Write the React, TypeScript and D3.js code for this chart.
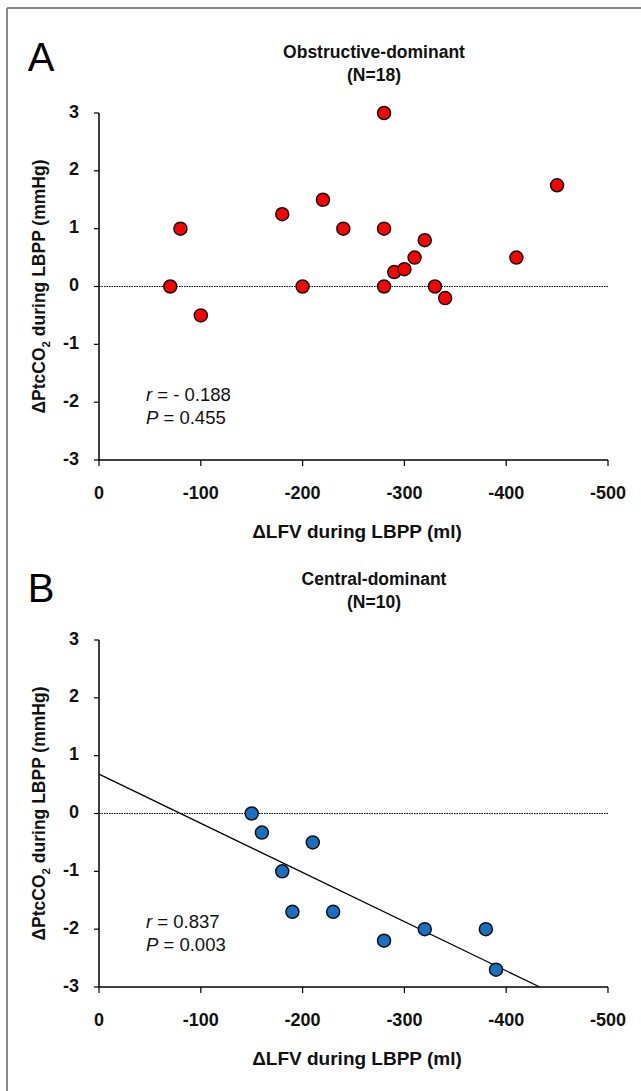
import React from "react";
import * as d3 from "d3";

// Panel A: obstructive-dominant
const obstructiveLFV = [-70, -80, -100, -180, -200, -220, -240, -280, -280, -280, -290, -300, -310, -320, -330, -340, -410, -450];
const obstructiveCO2 = [0, 1, -0.5, 1.25, 0, 1.5, 1, 3, 1, 0, 0.25, 0.3, 0.5, 0.8, 0, -0.2, 0.5, 1.75];

// Panel B: central-dominant
const centralLFV = [-150, -160, -180, -190, -210, -230, -280, -320, -380, -390];
const centralCO2 = [0, -0.33, -1, -1.7, -0.5, -1.7, -2.2, -2, -2, -2.7];
const centralFit = { intercept: 0.68, slope: 0.0085 };

const xTicks = [0, -100, -200, -300, -400, -500];
const yTicks = [3, 2, 1, 0, -1, -2, -3];

const FONT = "'Liberation Sans', Arial, sans-serif";

const x = d3.scaleLinear().domain([0, -500]).range([99, 608]);

type PanelProps = {
  top: number;
  letter: string;
  letterY: number;
  title: string;
  n: string;
  xs: number[];
  ys: number[];
  fill: string;
  r: string;
  p: string;
  fit?: { intercept: number; slope: number };
};

const Panel = ({ top, letter, letterY, title, n, xs, ys, fill, r, p, fit }: PanelProps) => {
  const y = d3.scaleLinear().domain([3, -3]).range([top + 113, top + 460]);
  const [x0, x1] = x.range();
  const yBottom = y(-3);

  let fitLine = null;
  if (fit) {
    // y = intercept + slope * lfv, stops at the x axis
    const xEnd = (-3 - fit.intercept) / fit.slope;
    const line = d3.line<[number, number]>().x((d) => x(d[0])).y((d) => y(d[1]));
    fitLine = (
      <path d={line([[0, fit.intercept], [xEnd, -3]]) || ""} stroke="#000" strokeWidth={1.3} fill="none" />
    );
  }

  return (
    <g fontFamily={FONT}>
      <text x={41} y={letterY} fontSize={40} textAnchor="middle" fill="#000">{letter}</text>
      <text x={374} y={top + 58} fontSize={17.5} fontWeight="bold" textAnchor="middle" fill="#111">{title}</text>
      <text x={374} y={top + 81} fontSize={17.5} fontWeight="bold" textAnchor="middle" fill="#111">{n}</text>

      {/* zero line */}
      <line x1={x0} x2={x1} y1={y(0)} y2={y(0)} stroke="#000" strokeWidth={1} strokeDasharray="1.5,1" />

      {/* axes */}
      <line x1={x0} x2={x0} y1={y(3)} y2={yBottom} stroke="#000" strokeWidth={1.5} />
      <line x1={x0} x2={x1} y1={yBottom} y2={yBottom} stroke="#000" strokeWidth={1.5} />
      {yTicks.map((t) => (
        <g key={"y" + t}>
          <line x1={x0 - 5} x2={x0} y1={y(t)} y2={y(t)} stroke="#000" strokeWidth={1.2} />
          <text x={x0 - 20} y={y(t) + 4.5} fontSize={18} fontWeight="bold" textAnchor="end" fill="#111">{t}</text>
        </g>
      ))}
      {xTicks.map((t) => (
        <g key={"x" + t}>
          <line x1={x(t)} x2={x(t)} y1={yBottom} y2={yBottom + 6} stroke="#000" strokeWidth={1.2} />
          <text x={x(t)} y={yBottom + 39} fontSize={18} fontWeight="bold" textAnchor="middle" fill="#111">{t}</text>
        </g>
      ))}

      <text
        transform={`translate(45,${y(0)}) rotate(-90)`}
        fontSize={17.5}
        fontWeight="bold"
        textAnchor="middle"
        fill="#111"
      >
        ΔPtcCO<tspan fontSize={11.5} dy={5}>2</tspan><tspan dy={-5}> during LBPP (mmHg)</tspan>
      </text>
      <text x={357} y={yBottom + 78} fontSize={19} fontWeight="bold" textAnchor="middle" fill="#111">
        ΔLFV during LBPP (ml)
      </text>

      {fitLine}

      {xs.map((v, i) => (
        <circle key={i} cx={x(v)} cy={y(ys[i])} r={6.5} fill={fill} stroke="#111" strokeWidth={1.5} />
      ))}

      <text x={146} y={y(-2) - 1} fontSize={18.5} fill="#111">
        <tspan fontStyle="italic">r</tspan> = {r}
      </text>
      <text x={146} y={y(-2) + 22} fontSize={18.5} fill="#111">
        <tspan fontStyle="italic">P</tspan> = {p}
      </text>
    </g>
  );
};

export default function App() {
  return (
    <svg
      width={641}
      height={1091}
      style={{ position: "absolute", left: 0, top: 0, background: "#fff" }}
    >
      <rect x={0} y={0} width={641} height={1091} fill="#fff" />
      <line x1={7} x2={641} y1={8} y2={8} stroke="#888" strokeWidth={2} />
      <line x1={7} x2={7} y1={8} y2={1091} stroke="#888" strokeWidth={2} />
      <Panel
        top={0}
        letter="A"
        letterY={71}
        title="Obstructive-dominant"
        n="(N=18)"
        xs={obstructiveLFV}
        ys={obstructiveCO2}
        fill="#ff0000"
        r="- 0.188"
        p="0.455"
      />
      <Panel
        top={527}
        letter="B"
        letterY={602}
        title="Central-dominant"
        n="(N=10)"
        xs={centralLFV}
        ys={centralCO2}
        fill="#1a6fc0"
        r="0.837"
        p="0.003"
        fit={centralFit}
      />
    </svg>
  );
}
